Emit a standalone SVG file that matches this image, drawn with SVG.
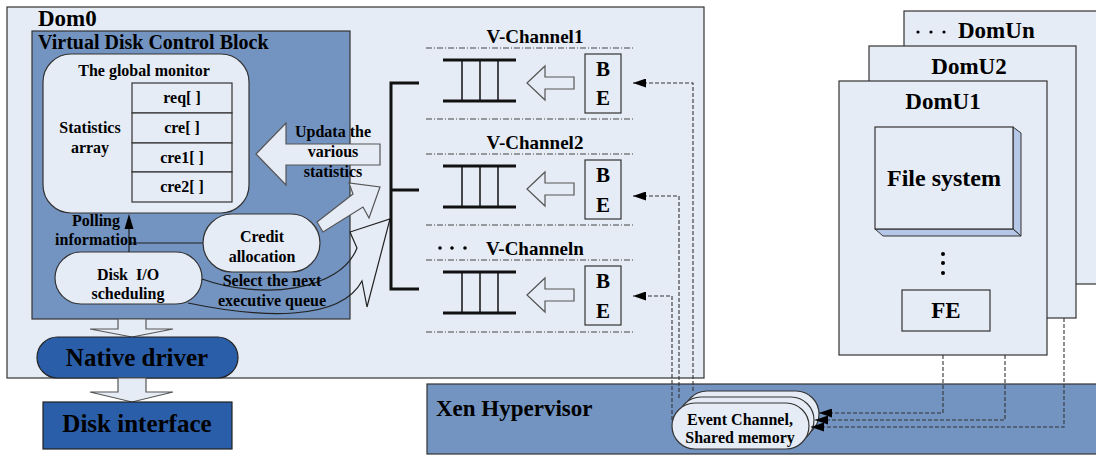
<svg xmlns="http://www.w3.org/2000/svg" width="1096" height="456" viewBox="0 0 1096 456">
<defs>
<style>
text{font-family:"Liberation Serif","Times New Roman",serif;font-weight:bold;fill:#000}
.lt{fill:#e6ecf6;stroke:#333;stroke-width:1.2}
.md{fill:#7394c1;stroke:#333;stroke-width:1.2}
.dk{fill:#2b5ea8;stroke:#222;stroke-width:1.2}
.ha{fill:#e6ecf6;stroke:#555;stroke-width:1.2}
.c{text-anchor:middle}
.s16{font-size:16px}
.dd{fill:none;stroke:#444;stroke-width:1;stroke-dasharray:6 2 1 2}
.dash{fill:none;stroke:#333;stroke-width:1.1;stroke-dasharray:4 2}
.qt{stroke:#111;stroke-width:3}
.qv{stroke:#111;stroke-width:1.5}
.ln{fill:none;stroke:#222;stroke-width:1.2}
</style>
<marker id="ah" markerUnits="userSpaceOnUse" markerWidth="13" markerHeight="9" refX="13" refY="4.5" orient="auto">
<path d="M0,0 L13,4.5 L0,9 z" fill="#000"/>
</marker>
</defs>

<g id="dom0">
<rect x="7" y="7" width="697" height="371" class="lt" stroke="#555"/>
<text x="38" y="26" font-size="23">Dom0</text>
</g>

<g id="vdcb">
<rect x="32" y="31" width="318" height="288" class="md"/>
<text x="38" y="49" font-size="20">Virtual Disk Control Block</text>
</g>

<g id="global-monitor">
<rect x="43" y="54" width="206" height="159" rx="28" class="lt"/>
<text x="144" y="76" class="c s16">The global monitor</text>
<text x="90" y="133" class="c s16">Statistics</text>
<text x="90" y="153" class="c s16">array</text>
<rect x="132" y="83" width="100" height="30" class="lt" fill="none"/>
<rect x="132" y="113" width="100" height="30" class="lt" fill="none"/>
<rect x="132" y="143" width="100" height="29" class="lt" fill="none"/>
<rect x="132" y="172" width="100" height="30" class="lt" fill="none"/>
<text x="182" y="103" class="c s16">req[ ]</text>
<text x="182" y="133" class="c s16">cre[ ]</text>
<text x="182" y="163" class="c s16">cre1[ ]</text>
<text x="182" y="192" class="c s16">cre2[ ]</text>
</g>

<g id="update-arrow">
<polygon points="256,154 286,123 286,144 380,144 380,165 286,165 286,185" class="ha"/>
<text x="333" y="137" class="c s16">Updata the</text>
<text x="333" y="157" class="c s16">various</text>
<text x="333" y="177" class="c s16">statistics</text>
</g>

<g id="credit-allocation">
<rect x="203" y="214" width="117" height="58" rx="29" class="lt"/>
<text x="262" y="242" class="c s16">Credit</text>
<text x="262" y="262" class="c s16">allocation</text>
</g>

<g id="disk-io">
<rect x="55" y="252" width="147" height="52" rx="26" class="lt"/>
<text x="128" y="280" class="c s16" xml:space="preserve">Disk  I/O</text>
<text x="128" y="299" class="c s16">scheduling</text>
</g>

<g id="credit-arrow">
<polygon points="317,222 353,194 349,183 380,187 369,218 363,207 323,232" class="ha"/>
</g>

<g id="select-arrow">
<path d="M202,279 C260,300 340,292 357,248 L350,232 L390,219 L367,307 L362,281 C340,322 260,318 188,303" class="ln"/>
<text x="272" y="286" class="c s16">Select the next</text>
<text x="272" y="306" class="c s16">executive queue</text>
</g>

<g id="polling">
<line x1="129" y1="252" x2="129" y2="228" class="ln"/>
<polygon points="129,214 124.5,229 133.5,229" fill="#000"/>
<line x1="129" y1="243" x2="203" y2="243" class="ln"/>
<text x="96" y="226" class="c s16">Polling</text>
<text x="96" y="245" class="c s16">information</text>
</g>

<g id="bracket">
<path d="M419,83 H391 V289 H419 M391,190 H419" fill="none" stroke="#111" stroke-width="3"/>
</g>

<g id="vchannel1">
<line x1="426" y1="48" x2="633" y2="48" class="dd"/>
<line x1="426" y1="119" x2="633" y2="119" class="dd"/>
<text x="535" y="43" class="c" font-size="19">V-Channel1</text>
<line x1="443" y1="60" x2="516" y2="60" class="qt"/>
<line x1="443" y1="101" x2="516" y2="101" class="qt"/>
<line x1="462" y1="60" x2="462" y2="101" class="qv"/>
<line x1="480" y1="60" x2="480" y2="101" class="qv"/>
<line x1="498" y1="60" x2="498" y2="101" class="qv"/>
<polygon points="527,83 545,66 545,77 574,77 574,89 545,89 545,100" class="ha"/>
<rect x="585" y="54" width="36" height="59" fill="none" stroke="#333" stroke-width="1.2"/>
<text x="603" y="76" class="c" font-size="21">B</text>
<text x="603" y="105" class="c" font-size="21">E</text>
</g>

<g id="vchannel2">
<line x1="426" y1="154" x2="633" y2="154" class="dd"/>
<line x1="426" y1="225" x2="633" y2="225" class="dd"/>
<text x="535" y="149" class="c" font-size="19">V-Channel2</text>
<line x1="443" y1="166" x2="516" y2="166" class="qt"/>
<line x1="443" y1="207" x2="516" y2="207" class="qt"/>
<line x1="462" y1="166" x2="462" y2="207" class="qv"/>
<line x1="480" y1="166" x2="480" y2="207" class="qv"/>
<line x1="498" y1="166" x2="498" y2="207" class="qv"/>
<polygon points="527,189 545,172 545,183 574,183 574,195 545,195 545,206" class="ha"/>
<rect x="585" y="160" width="36" height="59" fill="none" stroke="#333" stroke-width="1.2"/>
<text x="603" y="182" class="c" font-size="21">B</text>
<text x="603" y="212" class="c" font-size="21">E</text>
</g>

<g id="vchanneln">
<line x1="426" y1="260" x2="633" y2="260" class="dd"/>
<line x1="426" y1="332" x2="633" y2="332" class="dd"/>
<circle cx="440" cy="248" r="1.8" fill="#000"/>
<circle cx="452" cy="248" r="1.8" fill="#000"/>
<circle cx="465" cy="248" r="1.8" fill="#000"/>
<text x="486" y="255" font-size="19">V-Channeln</text>
<line x1="443" y1="272" x2="516" y2="272" class="qt"/>
<line x1="443" y1="313" x2="516" y2="313" class="qt"/>
<line x1="462" y1="272" x2="462" y2="313" class="qv"/>
<line x1="480" y1="272" x2="480" y2="313" class="qv"/>
<line x1="498" y1="272" x2="498" y2="313" class="qv"/>
<polygon points="527,295 545,278 545,289 574,289 574,301 545,301 545,312" class="ha"/>
<rect x="585" y="266" width="36" height="59" fill="none" stroke="#333" stroke-width="1.2"/>
<text x="603" y="288" class="c" font-size="21">B</text>
<text x="603" y="318" class="c" font-size="21">E</text>
</g>

<g id="vdcb-to-driver">
<polygon points="118,319 146,319 146,329 173,329 132,337 90,329 118,329" class="ha"/>
</g>

<g id="native-driver">
<rect x="37" y="337" width="201" height="41" rx="20.5" class="dk"/>
<text x="137" y="366" class="c" font-size="25">Native driver</text>
</g>

<g id="driver-to-disk">
<polygon points="118,378 146,378 146,392 173,392 132,402 90,392 118,392" class="ha"/>
</g>

<g id="disk-interface">
<rect x="43" y="402" width="189" height="47" class="dk"/>
<text x="137" y="432" class="c" font-size="25">Disk interface</text>
</g>

<g id="xen">
<rect x="427" y="384" width="680" height="70" class="md"/>
<text x="436" y="416" font-size="23">Xen Hypervisor</text>
</g>

<g id="domun">
<rect x="904" y="11" width="200" height="273" class="lt" stroke="#444"/>
<circle cx="918" cy="32" r="1.6" fill="#000"/>
<circle cx="931" cy="32" r="1.6" fill="#000"/>
<circle cx="944" cy="32" r="1.6" fill="#000"/>
<text x="958" y="38" font-size="23">DomUn</text>
</g>

<g id="domu2">
<rect x="869" y="46" width="207" height="272" class="lt" stroke="#444"/>
<text x="969" y="74" class="c" font-size="23">DomU2</text>
</g>

<g id="domu1">
<rect x="839" y="81" width="208" height="274" class="lt" stroke="#444"/>
<text x="943" y="109" class="c" font-size="23">DomU1</text>
</g>

<g id="file-system">
<polygon points="1013,127 1021,133 1021,236 1013,229" fill="#b4c7e7" stroke="#333" stroke-width="1"/>
<polygon points="875,229 1013,229 1021,236 883,236" fill="#b4c7e7" stroke="#333" stroke-width="1"/>
<rect x="875" y="127" width="138" height="102" class="lt"/>
<text x="944" y="186" class="c" font-size="24">File system</text>
<circle cx="943" cy="254" r="2" fill="#000"/>
<circle cx="943" cy="263" r="2" fill="#000"/>
<circle cx="943" cy="273" r="2" fill="#000"/>
</g>

<g id="fe">
<rect x="902" y="290" width="88" height="41" class="lt"/>
<text x="946" y="318" class="c" font-size="23">FE</text>
</g>

<g id="event-channel">
<rect x="684" y="391" width="135" height="46" rx="23" class="lt"/>
<rect x="678" y="397" width="136" height="46" rx="23" class="lt"/>
<rect x="672" y="403" width="137" height="46" rx="23" class="lt"/>
<text x="740" y="425" class="c s16">Event Channel,</text>
<text x="740" y="443" class="c s16">Shared memory</text>
</g>

<g id="connectors">
<path d="M693,391 V83 H633" class="dash" marker-end="url(#ah)"/>
<path d="M679,398 V196 H633" class="dash" marker-end="url(#ah)"/>
<path d="M672,420 V296 H633" class="dash" marker-end="url(#ah)"/>
<path d="M943,355 V413 H819" class="dash" marker-end="url(#ah)"/>
<path d="M1005,355 V420 H815" class="dash" marker-end="url(#ah)"/>
<path d="M1064,318 V427 H811" class="dash" marker-end="url(#ah)"/>
</g>
</svg>
